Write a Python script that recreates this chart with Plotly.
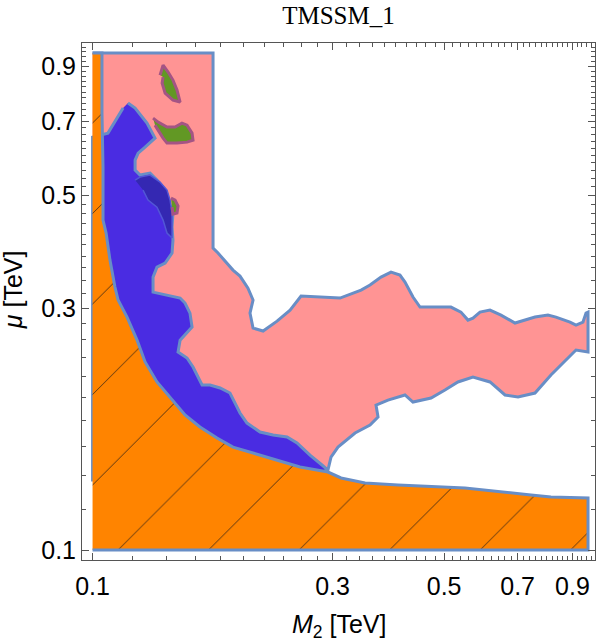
import plotly.graph_objects as go

# ---------------- data (M2 [TeV], mu [TeV]) ----------------
# pink region (outer envelope of allowed region)
pink_m2 = [0.1, 0.1736, 0.1736, 0.1776, 0.1902, 0.1964, 0.2037, 0.2085, 0.2056, 0.2085,
           0.2183, 0.2327, 0.2470, 0.2597, 0.3105, 0.3296, 0.3419, 0.3562, 0.3746, 0.3921,
           0.4085, 0.4180, 0.4336, 0.4478, 0.5159, 0.5401, 0.5577, 0.5706, 0.5893, 0.6169,
           0.6488, 0.6918, 0.7242, 0.7581, 0.8044, 0.8344, 0.8898, 0.9146, 0.9443, 0.9575,
           0.9663, 0.9663, 0.9146, 0.8816, 0.8616, 0.8155, 0.7581, 0.7014, 0.6608, 0.6169,
           0.5706, 0.5327, 0.5020, 0.4710, 0.4336, 0.4180, 0.3867, 0.3661, 0.3695, 0.3562,
           0.3326, 0.3076, 0.2979, 0.2938, 0.2585, 0.1]
pink_mu = [0.9552, 0.9552, 0.3940, 0.3852, 0.3565, 0.3469, 0.3285, 0.3112, 0.2933, 0.2740,
           0.2703, 0.2828, 0.2973, 0.3168, 0.3140, 0.3212, 0.3256, 0.3331, 0.3454, 0.3533,
           0.3485, 0.3376, 0.3154, 0.3014, 0.3014, 0.2946, 0.2841, 0.2867, 0.2946, 0.2973,
           0.2906, 0.2803, 0.2841, 0.2880, 0.2906, 0.2880, 0.2816, 0.2778, 0.2816, 0.2933,
           0.2946, 0.2458, 0.2480, 0.2392, 0.2338, 0.2214, 0.2040, 0.2003, 0.2022, 0.2145,
           0.2194, 0.2145, 0.2068, 0.1994, 0.1958, 0.2022, 0.1976, 0.1931, 0.1829, 0.1764,
           0.1701, 0.1596, 0.1525, 0.1438, 0.1406, 0.1406]

# blue region
blue_m2 = [0.1176, 0.1215, 0.1283, 0.1331, 0.1272, 0.1232, 0.1215, 0.1215, 0.1243, 0.1301,
           0.1343, 0.1394, 0.1413, 0.1445, 0.1439, 0.1445, 0.1439, 0.1394, 0.1343, 0.1319,
           0.1319, 0.1394, 0.1493, 0.1527, 0.1562, 0.1577, 0.1541, 0.1493, 0.1479, 0.1541,
           0.1584, 0.1613, 0.1651, 0.1712, 0.1793, 0.1876, 0.1964, 0.2028, 0.2153, 0.2285,
           0.2436, 0.2550, 0.2706, 0.2859, 0.2938, 0.2585, 0.1, 0.1, 0.1073, 0.1150]
blue_mu = [0.7612, 0.7441, 0.6950, 0.6492, 0.6232, 0.6064, 0.5875, 0.5615, 0.5489, 0.5539,
           0.5366, 0.5128, 0.4899, 0.4619, 0.4335, 0.4085, 0.3852, 0.3681, 0.3614, 0.3454,
           0.3226, 0.3183, 0.3140, 0.3070, 0.2933, 0.2753, 0.2679, 0.2594, 0.2458, 0.2392,
           0.2296, 0.2214, 0.2116, 0.2116, 0.2087, 0.2040, 0.1863, 0.1780, 0.1709, 0.1686,
           0.1671, 0.1626, 0.1539, 0.1471, 0.1438, 0.1374, 0.1374, 0.6521, 0.6641, 0.7441]

# darker blue overlap region
dblue_m2 = [0.1215, 0.1243, 0.1301, 0.1362, 0.1406, 0.1426, 0.1439, 0.1439, 0.1406, 0.1381,
            0.1343, 0.1289, 0.1260]
dblue_mu = [0.5366, 0.5440, 0.5489, 0.5318, 0.5128, 0.4899, 0.4619, 0.4123, 0.4218, 0.4474,
            0.4746, 0.4899, 0.5128]

# green islands
green1_m2 = [0.1362, 0.1381, 0.1413, 0.1445, 0.1472, 0.1493, 0.1445, 0.1394, 0.1375, 0.1381]
green1_mu = [0.8644, 0.9040, 0.8764, 0.8450, 0.8075, 0.7647, 0.7717, 0.7964, 0.8335, 0.8565]
green2_m2 = [0.1319, 0.1350, 0.1406, 0.1459, 0.1506, 0.1541, 0.1577, 0.1584, 0.1541, 0.1472,
             0.1406, 0.1381, 0.1350, 0.1331]
green2_mu = [0.7110, 0.6982, 0.6825, 0.6825, 0.6950, 0.6887, 0.6641, 0.6433, 0.6375, 0.6347,
             0.6347, 0.6492, 0.6733, 0.6887]
green3_m2 = [0.1432, 0.1459, 0.1479, 0.1472, 0.1445, 0.1439]
green3_mu = [0.4944, 0.4899, 0.4768, 0.4619, 0.4598, 0.4746]

# orange (excluded) region
orange_m2 = [0.1, 0.9663, 0.9663, 0.8155, 0.7444, 0.5501, 0.4048, 0.3482, 0.3119, 0.2938,
             0.2585, 0.2391, 0.2223, 0.2056, 0.1902, 0.1768, 0.1635, 0.1527, 0.1426, 0.1343,
             0.1272, 0.1226, 0.1171, 0.1124, 0.1108, 0.1083, 0.1064, 0.1049, 0.1049, 0.1044,
             0.1044, 0.1]
orange_mu = [0.1, 0.1, 0.1266, 0.1272, 0.1284, 0.1325, 0.1343, 0.1356, 0.1387, 0.1425,
             0.1458, 0.1491, 0.1525, 0.1561, 0.1596, 0.1663, 0.1748, 0.1846, 0.2003, 0.2145,
             0.2349, 0.2594, 0.2880, 0.3112, 0.3300, 0.3731, 0.4218, 0.4474, 0.5692, 0.7274,
             0.9552, 0.9552]

# ticks
major_vals = [0.1, 0.3, 0.5, 0.7, 0.9]
major_text = ["0.1", "0.3", "0.5", "0.7", "0.9"]
minor_vals = [0.12, 0.14, 0.16, 0.18, 0.2, 0.22, 0.24, 0.26, 0.28, 0.32, 0.34, 0.36, 0.38,
              0.4, 0.42, 0.44, 0.46, 0.48, 0.52, 0.54, 0.56, 0.58, 0.6, 0.62, 0.64, 0.66,
              0.68, 0.72, 0.74, 0.76, 0.78, 0.8, 0.82, 0.84, 0.86, 0.88, 0.92, 0.94, 0.96,
              0.98]

OUTLINE = "rgb(104,142,198)"
fig = go.Figure()


def region(x, y, fill, line_color, width, pattern=None):
    kw = dict(x=x, y=y, mode="lines", fill="toself", fillcolor=fill,
              line=dict(color=line_color, width=width),
              hoverinfo="skip", showlegend=False)
    if pattern is not None:
        kw["fillpattern"] = pattern
    fig.add_trace(go.Scatter(**kw))


region(pink_m2, pink_mu, "rgb(255,148,148)", OUTLINE, 3)
region(blue_m2, blue_mu, "rgb(74,44,226)", OUTLINE, 3)
region(dblue_m2, dblue_mu, "rgb(52,40,178)", "rgb(82,86,214)", 1.5)
for gx, gy in [(green1_m2, green1_mu), (green2_m2, green2_mu), (green3_m2, green3_mu)]:
    region(gx, gy, "rgb(98,152,36)", "rgb(164,84,132)", 3)
region(orange_m2, orange_mu, "rgb(255,132,0)", OUTLINE, 3,
       pattern=dict(shape="/", size=64, solidity=0.014, fgcolor="rgb(70,45,20)",
                    bgcolor="rgb(255,132,0)", fillmode="replace"))

axis_common = dict(
    type="log", showgrid=False, zeroline=False, showline=True, linecolor="#555",
    linewidth=1, mirror="allticks", ticks="inside", ticklen=7, tickcolor="#555",
    tickvals=major_vals, ticktext=major_text,
    tickfont=dict(family="Liberation Sans", size=25, color="black"),
    minor=dict(tickvals=minor_vals, ticks="inside", ticklen=4, tickcolor="#555"),
)
fig.update_xaxes(range=[-1.021, -0.001], ticklabelstandoff=4, **axis_common)
fig.update_yaxes(range=[-1.0197, 0.0], **axis_common)

fig.update_layout(
    width=598, height=644,
    margin=dict(l=82, r=3, t=43, b=84),
    paper_bgcolor="white", plot_bgcolor="white",
    hovermode=False,
    title=dict(text="TMSSM_1", x=0.5, xref="paper", y=1 - 15 / 644, yanchor="middle",
               font=dict(family="Liberation Serif", size=25, color="black")),
    annotations=[
        dict(text="<i>M</i><sub>2</sub> [TeV]", xref="paper", yref="paper",
             x=0.5, y=-0.128, xanchor="center", yanchor="middle", showarrow=False,
             font=dict(family="Liberation Sans", size=25, color="black")),
        dict(text="<i>μ</i> [TeV]", xref="paper", yref="paper",
             x=-0.1345, y=0.522, xanchor="center", yanchor="middle", showarrow=False,
             textangle=-90,
             font=dict(family="Liberation Sans", size=25, color="black")),
    ],
)

# remove the default 8px page margin so the figure sits at the window's corner
fig.write_html("out.html", config={"displayModeBar": False},
               post_script="document.body.style.margin='0px';")
